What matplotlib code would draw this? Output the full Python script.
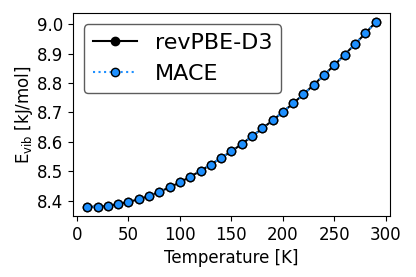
import numpy as np
import matplotlib
matplotlib.use("Agg")
import matplotlib.pyplot as plt

temps = np.arange(10, 300, 10)
e_revpbe = [8.380, 8.381, 8.383, 8.389, 8.397, 8.405, 8.417, 8.431, 8.446, 8.463,
            8.482, 8.502, 8.523, 8.546, 8.568, 8.593, 8.619, 8.646, 8.673, 8.702,
            8.731, 8.762, 8.794, 8.827, 8.861, 8.896, 8.932, 8.968, 9.006]
e_mace = [8.380, 8.381, 8.383, 8.389, 8.397, 8.405, 8.417, 8.431, 8.446, 8.463,
          8.482, 8.502, 8.523, 8.546, 8.568, 8.593, 8.619, 8.646, 8.673, 8.702,
          8.731, 8.762, 8.794, 8.827, 8.861, 8.896, 8.932, 8.968, 9.006]
xticks = [0, 50, 100, 150, 200, 250, 300]
yticks = [8.4, 8.5, 8.6, 8.7, 8.8, 8.9, 9.0]

fig, ax = plt.subplots(figsize=(4.16, 2.77), dpi=100)
fig.subplots_adjust(left=0.175, right=0.9375, bottom=0.22, top=0.953)

ax.plot(temps, e_revpbe, 'k-o', markersize=6, label='revPBE-D3')
ax.plot(temps, e_mace, ':o', color='dodgerblue', markerfacecolor='dodgerblue',
        markeredgecolor='k', markersize=6, label='MACE')

ax.set_xlabel('Temperature [K]', fontsize=12)
ax.set_ylabel(r'E$_{\rm vib}$ [kJ/mol]', fontsize=12, labelpad=1)
ax.tick_params(labelsize=12)
ax.set_xticks(xticks)
ax.set_yticks(yticks)
leg = ax.legend(loc='upper left', fontsize=16)
leg.get_frame().set_edgecolor('0.2')

fig.savefig('out.png', dpi=100)
